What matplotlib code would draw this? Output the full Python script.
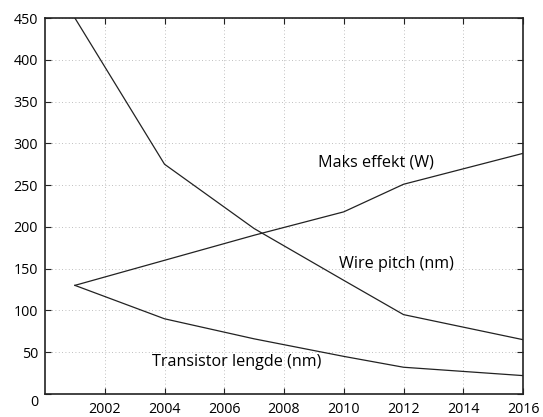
import matplotlib
matplotlib.use("Agg")
import matplotlib.pyplot as plt
import matplotlib.transforms as mtransforms

plt.rcParams["font.family"] = ["Open Sans", "DejaVu Sans"]

# values
years = [2001, 2004, 2007, 2010, 2012, 2016]
wire_pitch = [450, 275, 198, 136, 95, 65]
maks_effekt = [130, 160, 190, 218, 251, 288]
transistor_lengde = [130, 90, 66, 45, 32, 22]

x_ticks = [2002, 2004, 2006, 2008, 2010, 2012, 2014, 2016]
y_ticks = [0, 50, 100, 150, 200, 250, 300, 350, 400, 450]

fig = plt.figure(figsize=(5.43, 4.17), dpi=100)
ax = fig.add_axes([0.0829, 0.0552, 0.8803, 0.9016])

for series in (wire_pitch, maks_effekt, transistor_lengde):
    ax.plot(years, series, color="#222222", lw=0.9)

ax.text(2011.08, 277, "Maks effekt (W)", ha="center", va="center", fontsize=11.6)
ax.text(2011.77, 155, "Wire pitch (nm)", ha="center", va="center", fontsize=11.6)
ax.text(2006.40, 38, "Transistor lengde (nm)", ha="center", va="center", fontsize=11.6)

ax.set_xlim(2000, 2016)
ax.set_ylim(0, 450)
ax.set_xticks(x_ticks)
ax.set_yticks(y_ticks)
ax.grid(True, linestyle=(0, (1, 3)), color="#aaaaaa", lw=0.6)
ax.tick_params(direction="in", length=4, width=0.8, top=True, right=True,
               labelsize=10.3, color="#222222")
ax.tick_params(axis="x", pad=6)
ax.tick_params(axis="y", pad=5)
for sp in ax.spines.values():
    sp.set_color("#222222")
    sp.set_linewidth(1.2)

# the 0 label sits a bit lower in the original
zero = ax.get_yticklabels()[0]
zero.set_transform(zero.get_transform() + mtransforms.ScaledTranslation(0, -5 / 72, fig.dpi_scale_trans))

fig.savefig("out.png", dpi=100)
